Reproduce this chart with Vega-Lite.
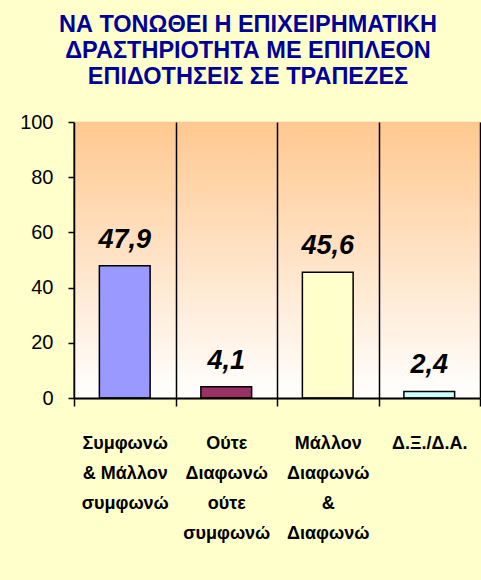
{
  "$schema": "https://vega.github.io/schema/vega-lite/v6.json",
  "autosize": {"type": "none"},
  "width": 406,
  "height": 276,
  "padding": {"left": 74, "top": 122, "right": 1, "bottom": 182},
  "background": "#FFFFCC",
  "config": {
    "font": "Liberation Sans",
    "view": {"stroke": null}
  },
  "title": {
    "text": ["ΝΑ ΤΟΝΩΘΕΙ Η ΕΠΙΧΕΙΡΗΜΑΤΙΚΗ", "ΔΡΑΣΤΗΡΙΟΤΗΤΑ ΜΕ ΕΠΙΠΛΕΟΝ", "ΕΠΙΔΟΤΗΣΕΙΣ ΣΕ ΤΡΑΠΕΖΕΣ"],
    "font": "Liberation Sans",
    "fontSize": 23.5,
    "fontWeight": "bold",
    "color": "#000099",
    "lineHeight": 26,
    "anchor": "middle",
    "dx": -29,
    "offset": 24
  },
  "data": {
    "values": [
      {"cat": "Συμφωνώ|& Μάλλον|συμφωνώ", "v": 47.9, "label": "47,9"},
      {"cat": "Ούτε|Διαφωνώ|ούτε|συμφωνώ", "v": 4.1, "label": "4,1"},
      {"cat": "Μάλλον|Διαφωνώ|&|Διαφωνώ", "v": 45.6, "label": "45,6"},
      {"cat": "Δ.Ξ./Δ.Α.", "v": 2.4, "label": "2,4"}
    ]
  },
  "encoding": {
    "x": {
      "field": "cat",
      "type": "nominal",
      "sort": null,
      "scale": {"paddingInner": 0, "paddingOuter": 0},
      "axis": {
        "title": null,
        "labelAngle": 0,
        "labelExpr": "isValid(datum.value) ? split(datum.value, '|') : ''",
        "labelFontSize": 18,
        "labelFontWeight": "bold",
        "labelColor": "black",
        "labelLineHeight": 30,
        "labelPadding": 28,
        "labelBaseline": "top",
        "tickBand": "extent",
        "tickSize": 8,
        "tickColor": "black",
        "tickWidth": 1.5,
        "grid": true,
        "gridColor": "black",
        "gridWidth": 1.5,
        "domainColor": "black",
        "domainWidth": 2,
        "zindex": 1
      }
    }
  },
  "layer": [
    {
      "data": {"values": [{"top": 100, "bottom": 0}]},
      "mark": {
        "type": "rect",
        "fill": {
          "gradient": "linear",
          "x1": 0, "y1": 0, "x2": 0, "y2": 1,
          "stops": [
            {"offset": 0, "color": "#FFC890"},
            {"offset": 1, "color": "#FFFFFF"}
          ]
        }
      },
      "encoding": {
        "x": null,
        "y": {"field": "top", "type": "quantitative", "scale": {"domain": [0, 100]}},
        "y2": {"field": "bottom"}
      }
    },
    {
      "mark": {"type": "bar", "stroke": "black", "strokeWidth": 1.5, "width": {"band": 0.5}},
      "encoding": {
        "y": {
          "field": "v",
          "type": "quantitative",
          "scale": {"domain": [0, 100]},
          "axis": {
            "title": null,
            "values": [0, 20, 40, 60, 80, 100],
            "labelFontSize": 20,
            "labelColor": "black",
            "labelPadding": 15,
            "tickSize": 6,
            "tickColor": "black",
            "tickWidth": 1.5,
            "domainColor": "black",
            "domainWidth": 2,
            "grid": true,
            "gridColor": "#C0C0C0",
            "gridWidth": 1.5
          }
        },
        "color": {
          "field": "cat",
          "type": "nominal",
          "sort": null,
          "scale": {"range": ["#9999FF", "#993366", "#FFFFCC", "#CCFFFF"]},
          "legend": null
        }
      }
    },
    {
      "mark": {"type": "text", "fontSize": 27, "fontWeight": "bold", "fontStyle": "italic", "color": "black", "baseline": "alphabetic", "dy": -18},
      "encoding": {
        "y": {"field": "v", "type": "quantitative"},
        "text": {"field": "label"}
      }
    }
  ]
}
